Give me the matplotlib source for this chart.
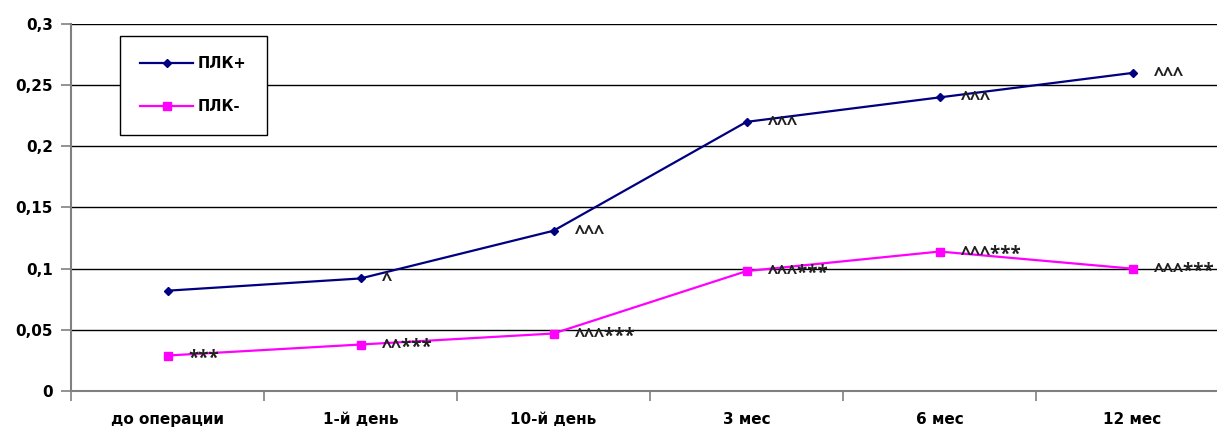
import numpy as np
import matplotlib.pyplot as plt
from matplotlib.ticker import FixedLocator, FuncFormatter

categories = ['до операции', '1-й день', '10-й день', '3 мес', '6 мес', '12 мес']
plk_plus = [0.082, 0.092, 0.131, 0.220, 0.240, 0.260]
plk_minus = [0.029, 0.038, 0.047, 0.098, 0.114, 0.100]
plus_marks = ['', '^', '^^^', '^^^', '^^^', '^^^']
minus_marks = ['***', '^^***', '^^^***', '^^^***', '^^^***', '^^^***']

plt.rcParams['font.family'] = ['DejaVu Sans']

fig = plt.figure(figsize=(12.17, 4.30), dpi=100)
# plot area runs a little past the right edge, like the source image
ax = fig.add_axes([71/1217, 39/430, 1158/1217, 367/430])

x = np.arange(len(categories))
ax.plot(x, plk_plus, color='#000080', lw=1.6, marker='D', ms=4.5, label='ПЛК+')
ax.plot(x, plk_minus, color='#ff00ff', lw=1.6, marker='s', ms=5.5, label='ПЛК-')

mark_font = dict(fontsize=13.5, family='Open Sans', fontweight='bold',
                 va='baseline', ha='left', color='#202020')
for i in range(len(x)):
    if plus_marks[i]:
        ax.annotate(plus_marks[i], (x[i], plk_plus[i]), xytext=(21, -8),
                    textcoords='offset pixels', **mark_font)
    ax.annotate(minus_marks[i], (x[i], plk_minus[i]), xytext=(21, -8),
                textcoords='offset pixels', **mark_font)

ax.set_xlim(-0.5, 5.5)
ax.set_ylim(0, 0.3)
ax.set_yticks(np.arange(0, 0.31, 0.05))
ax.yaxis.set_major_formatter(FuncFormatter(lambda v, p: ('%g' % round(v, 2)).replace('.', ',')))
ax.yaxis.grid(True, color='black', lw=1)
ax.set_axisbelow(True)

ax.set_xticks(x)
ax.set_xticklabels(categories)
ax.xaxis.set_minor_locator(FixedLocator(np.arange(-0.5, 6, 1)))
ax.tick_params(axis='x', which='major', length=0, pad=15)
ax.tick_params(axis='x', which='minor', length=7, color='#808080', width=1.2)
ax.tick_params(axis='y', length=7, color='#808080', width=1.2, pad=6)
for lab in ax.get_xticklabels() + ax.get_yticklabels():
    lab.set_fontsize(11)
    lab.set_fontweight('bold')

for s in ['top', 'right']:
    ax.spines[s].set_visible(False)
ax.spines['left'].set_color('#808080')
ax.spines['bottom'].set_color('#808080')
ax.spines['left'].set_linewidth(1.5)
ax.spines['bottom'].set_linewidth(1.5)

leg = ax.legend(loc='upper left', bbox_to_anchor=(49/1158, 1 - 12/367), frameon=True,
                fancybox=False, edgecolor='black', framealpha=1,
                prop={'weight': 'bold', 'size': 10.5}, handlelength=3.6,
                labelspacing=1.9, borderpad=1.4, borderaxespad=0, handletextpad=0.35)
leg.get_frame().set_linewidth(1)

fig.savefig('out.png', dpi=100, facecolor='white')
